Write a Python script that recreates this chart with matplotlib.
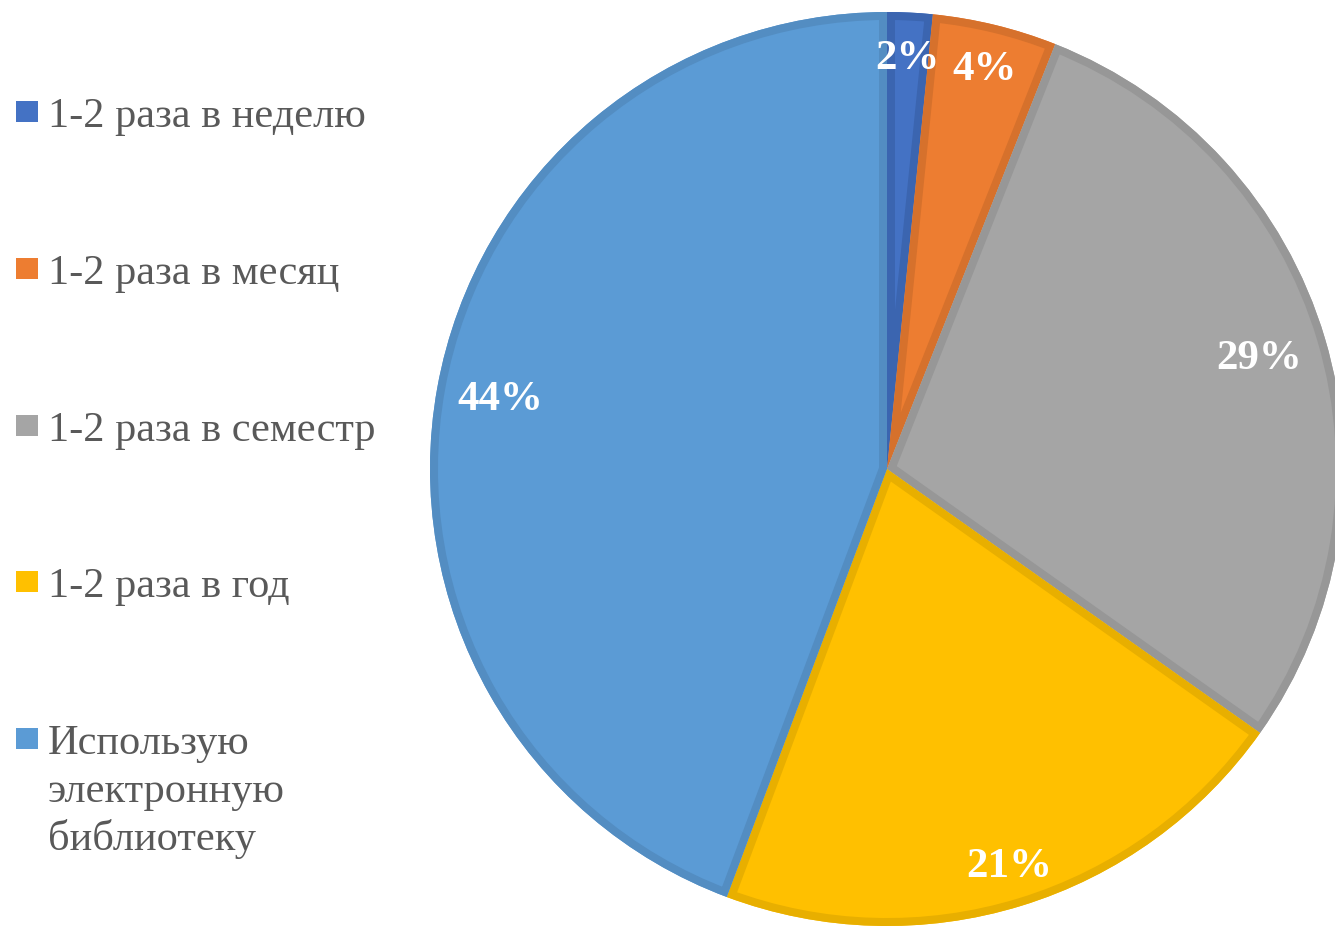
import numpy as np
import matplotlib
matplotlib.use('Agg')
import matplotlib.pyplot as plt
from matplotlib.patches import Rectangle, Wedge

plt.rcParams['font.family'] = 'Liberation Serif'

categories = ['1-2 раза в неделю', '1-2 раза в месяц', '1-2 раза в семестр',
              '1-2 раза в год', 'Использую\nэлектронную\nбиблиотеку']
shares = [1.6, 4.4, 28.8, 20.9, 44.3]

face_colors = ['#4472C4', '#ED7D31', '#A5A5A5', '#FFC000', '#5B9BD5']
edge_colors = ['#3B65B0', '#D6712C', '#979797', '#E8AF00', '#538DC2']
label_dist = [0.90, 0.90, 0.85, 0.91, 0.86]  # Excel "best fit" positions

W, H = 1335, 929
fig = plt.figure(figsize=(W / 100, H / 100), dpi=100)
R = 457
cx, cy = 887, 470
ax = fig.add_axes([(cx - R) / W, (H - cy - R) / H, 2 * R / W, 2 * R / H])

rad = 1.0
wedges, texts, autotexts = ax.pie(
    shares, colors=face_colors, startangle=90, counterclock=False,
    radius=rad, autopct='%.0f%%', pctdistance=0.88,
    wedgeprops=dict(linewidth=0),
    textprops=dict(color='white', fontsize=31, fontweight='bold',
                   family='Liberation Serif', zorder=5))
for w, ec, t, d in zip(wedges, edge_colors, autotexts, label_dist):
    # border only on the inside of each slice, like Excel
    border = Wedge(w.center, w.r, w.theta1, w.theta2, facecolor='none',
                   edgecolor=ec, linewidth=11.5)
    ax.add_patch(border)
    border.set_clip_path(w.get_path(), w.get_transform())
    th = np.deg2rad((w.theta1 + w.theta2) / 2)
    t.set_position((d * rad * np.cos(th), d * rad * np.sin(th)))
ax.set_xlim(-1, 1)
ax.set_ylim(-1, 1)
ax.set_aspect('equal')
ax.axis('off')

# legend drawn by hand: one square + label per category
baselines = [127, 284, 441, 597, 754]
line_pitch = 48
for lab, col, yb in zip(categories, face_colors, baselines):
    fig.patches.append(Rectangle((16 / W, 1 - (yb - 4) / H), 22 / W, 21 / H,
                                 transform=fig.transFigure, facecolor=col,
                                 edgecolor='none'))
    for i, line in enumerate(lab.split('\n')):
        fig.text(48 / W, 1 - (yb + i * line_pitch) / H, line, fontsize=30.5,
                 color='#595959', family='Liberation Serif',
                 ha='left', va='baseline')

fig.savefig('out.png', dpi=100)
